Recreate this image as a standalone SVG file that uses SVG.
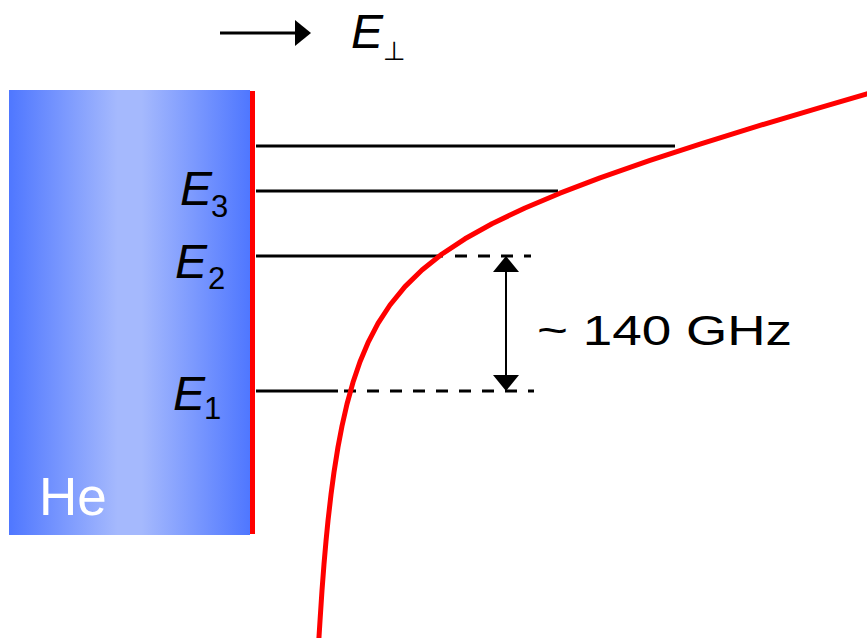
<svg xmlns="http://www.w3.org/2000/svg" width="867" height="638" viewBox="0 0 867 638">
<style>
.lvl{stroke:#000;stroke-width:3;fill:none}
.dash{stroke:#000;stroke-width:3;fill:none;stroke-dasharray:12 11}
.lbl{font-family:"Liberation Sans",Arial,sans-serif;font-style:italic;font-size:48px;fill:#000}
.sub{font-family:"Liberation Sans",Arial,sans-serif;font-size:31px;fill:#000}
</style>
<defs>
<linearGradient id="heGrad" x1="0" y1="0" x2="1" y2="0">
<stop offset="0" stop-color="#4f77ff"/>
<stop offset="0.45" stop-color="#a5b9fd"/>
<stop offset="0.55" stop-color="#a5b9fd"/>
<stop offset="1" stop-color="#4f77ff"/>
</linearGradient>
<marker id="head" markerUnits="userSpaceOnUse" markerWidth="16" markerHeight="26" refX="0" refY="13" orient="auto-start-reverse" viewBox="0 0 16 26">
<path d="M0,0 L16,13 L0,26 Z" fill="#000"/>
</marker>
</defs>

<g id="helium">
<rect x="9" y="90" width="241" height="445" fill="url(#heGrad)"/>
<text x="39" y="515" font-family="'Liberation Sans',Arial,sans-serif" font-size="53" fill="#fff">He</text>
</g>

<g id="levels">
<line class="lvl" x1="256" y1="146" x2="675" y2="146"/>
<line class="lvl" x1="256" y1="191" x2="558" y2="191"/>
<line class="lvl" x1="256" y1="256" x2="443" y2="256"/>
<line class="dash" x1="455" y1="256" x2="531" y2="256"/>
<line class="lvl" x1="256" y1="391" x2="338" y2="391"/>
<line class="dash" x1="344" y1="391" x2="534" y2="391"/>
</g>

<g id="surface">
<line x1="252.5" y1="91" x2="252.5" y2="534" stroke="#ff0000" stroke-width="5"/>
</g>

<g id="potential">
<path d="M318.8,640 L320,620.9 L322,590.4 L324,564.1 L326,541.1 L328,520.8 L331,494.5 L334,472.1 L338,447 L342,426 L347,404 L353,382.3 L360,361.7 L368,342.7 L378,323.4 L390,305 L405,286.6 L422,270 L442,254 L465,238.8 L492,223.7 L525,208 L560,193.2 L600,177.8 L650,160.4 L700,144.1 L760,125.4 L820,107.7 L870,93.1" fill="none" stroke="#ff0000" stroke-width="5" stroke-linejoin="round"/>
</g>

<g id="connectors">
<line x1="220" y1="33" x2="295" y2="33" stroke="#000" stroke-width="3" marker-end="url(#head)"/>
<line x1="506" y1="272" x2="506" y2="375" stroke="#000" stroke-width="2" marker-start="url(#head)" marker-end="url(#head)"/>
</g>

<g id="labels">
<text class="lbl" x="351" y="48">E</text>
<text x="383" y="60" font-family="'DejaVu Sans',sans-serif" font-size="26" fill="#000">⊥</text>
<text class="lbl" x="180" y="205">E</text>
<text class="sub" x="211" y="217">3</text>
<text class="lbl" x="175" y="278">E</text>
<text class="sub" x="208" y="289">2</text>
<text class="lbl" x="173" y="410">E</text>
<text class="sub" x="204" y="419">1</text>
<text x="537" y="345" font-family="'Liberation Sans',Arial,sans-serif" font-size="43" fill="#000" textLength="255" lengthAdjust="spacingAndGlyphs">~ 140 GHz</text>
</g>
</svg>
